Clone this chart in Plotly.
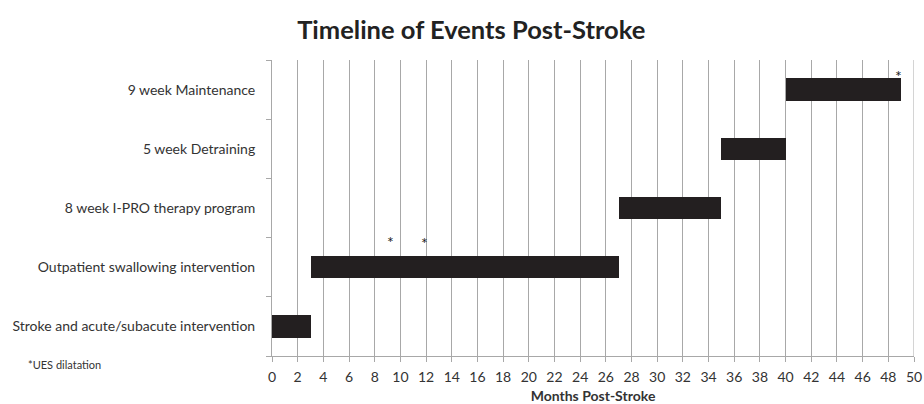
import plotly.graph_objects as go

# Phases of care, bottom to top
phases = [
    "Stroke and acute/subacute intervention",
    "Outpatient swallowing intervention",
    "8 week I-PRO therapy program",
    "5 week Detraining",
    "9 week Maintenance",
]
start_month = [0, 3, 27, 35, 40]
end_month = [3, 27, 35, 40, 49]

# UES dilatation events (month, phase row)
ues_months = [9.2, 11.9, 48.8]
ues_phase = [
    "Outpatient swallowing intervention",
    "Outpatient swallowing intervention",
    "9 week Maintenance",
]
ues_shift = [26, 25, 14]

x_ticks = list(range(0, 51, 2))

durations = [e - s for s, e in zip(start_month, end_month)]
grid_color = "#a8a8a8"

fig = go.Figure()
fig.add_trace(go.Bar(
    y=phases,
    x=durations,
    base=start_month,
    orientation="h",
    width=0.38,
    marker=dict(color="#231f20", line=dict(width=0)),
    hoverinfo="skip",
))

for m, p, s in zip(ues_months, ues_phase, ues_shift):
    fig.add_annotation(
        x=m, y=p, text="*", showarrow=False, yshift=s,
        font=dict(family="Lato", size=16, color="#222"),
        xanchor="center", yanchor="middle",
    )

fig.add_annotation(
    xref="paper", yref="paper", x=-0.383, y=-0.03,
    text="*UES dilatation", showarrow=False,
    xanchor="left", yanchor="middle",
    font=dict(family="Lato", size=11, color="#333"),
)

# plotly drops the gridline sitting on the range end, so draw the last one
fig.add_shape(
    type="line", xref="x", yref="paper",
    x0=x_ticks[-1], x1=x_ticks[-1], y0=0, y1=1,
    line=dict(color=grid_color, width=1), layer="above",
)

fig.update_layout(
    width=924, height=404,
    margin=dict(l=272, r=10, t=60, b=48, autoexpand=False),
    paper_bgcolor="white", plot_bgcolor="white",
    showlegend=False,
    bargap=0,
    title=dict(
        text="<b>Timeline of Events Post-Stroke</b>",
        x=0.51, xanchor="center", y=0.926, yanchor="middle",
        font=dict(family="Lato", size=25.5, color="#222"),
    ),
    font=dict(family="Lato", size=14, color="#333"),
)

fig.update_xaxes(
    range=[0, 50],
    automargin=False,
    tickvals=x_ticks,
    ticktext=[str(t) for t in x_ticks],
    ticklabeloverflow="allow",
    ticklabelstandoff=3,
    showgrid=True, gridcolor=grid_color, gridwidth=1,
    showline=True, linecolor=grid_color, linewidth=1,
    ticks="outside", ticklen=5, tickcolor=grid_color,
    tickfont=dict(family="Lato", size=14, color="#333"),
    zeroline=False,
    title=dict(text="<b>Months Post-Stroke</b>", standoff=9,
               font=dict(family="Lato", size=14, color="#333")),
)

fig.update_yaxes(
    type="category",
    automargin=False,
    categoryorder="array", categoryarray=phases,
    tickson="boundaries",
    showgrid=False,
    showline=True, linecolor=grid_color, linewidth=1,
    ticks="outside", ticklen=5, tickcolor=grid_color,
    ticklabelstandoff=13,
    tickfont=dict(family="Lato", size=14, color="#333"),
    zeroline=False,
)

fig.write_html("out.html")
